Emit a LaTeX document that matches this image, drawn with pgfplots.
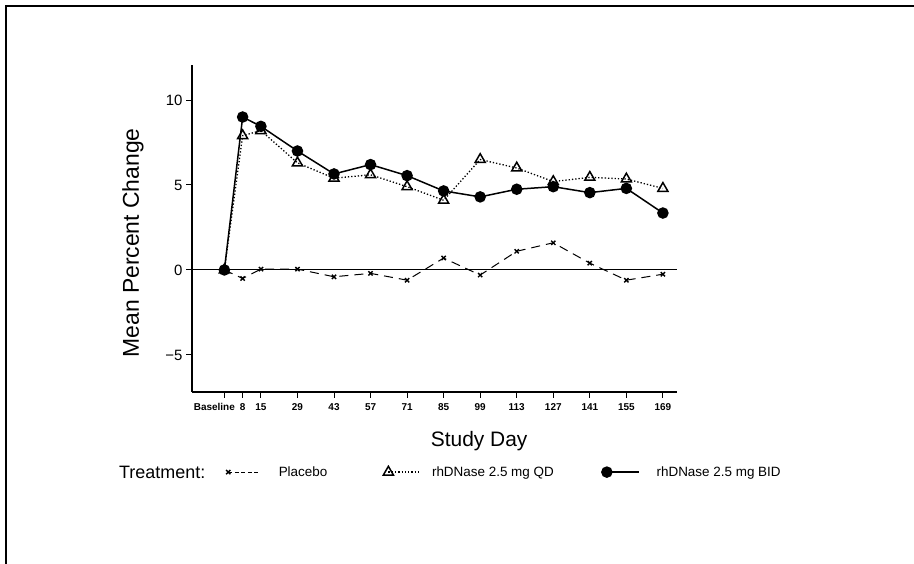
\documentclass[border=0pt]{standalone}
\usepackage{pgfplots}
\usepackage{pgfplotstable}
\usepackage{fontspec}
\setmainfont{Liberation Sans}
\pgfplotsset{compat=1.18}

% mean percent change by study day
\pgfplotstableread{
day placebo qd   bid
1   0.00    0.00 0.00
8   -0.50   7.90 9.00
15  0.05    8.20 8.45
29  0.05    6.30 7.00
43  -0.40   5.40 5.65
57  -0.20   5.60 6.20
71  -0.60   4.90 5.55
85  0.70    4.10 4.65
99  -0.30   6.50 4.30
113 1.10    6.00 4.75
127 1.60    5.20 4.90
141 0.40    5.45 4.55
155 -0.60   5.35 4.80
169 -0.25   4.80 3.35
}\datatable

\begin{document}
\begin{tikzpicture}
\path[use as bounding box] (0,0) rectangle (914bp,564bp);
% page frame (top and left edges visible)
\draw[line width=2bp] (6bp,0) -- (6bp,558bp) -- (914bp,558bp);

\node[anchor=west, font=\fontsize{18}{20}\selectfont, inner sep=0] at (119bp,92bp) {Treatment:};

\begin{axis}[
  at={(192bp,172bp)}, anchor=south west,
  scale only axis,
  width=485bp, height=327bp,
  xmin=-11.4, xmax=174.4,
  ymin=-7.18, ymax=12.06,
  axis x line*=bottom, axis y line*=left,
  every non boxed x axis/.append style={x axis line style=-},
  every non boxed y axis/.append style={y axis line style=-},
  axis line style={line width=1.2bp},
  tick align=outside,
  tick style={line width=1bp, black},
  major tick length=6bp,
  xtick={8,15,29,43,57,71,85,99,113,127,141,155,169},
  xticklabels={8,15,29,43,57,71,85,99,113,127,141,155,169},
  extra x ticks={1},
  extra x tick labels={Baseline},
  extra x tick style={xticklabel style={xshift=-10bp}},
  xticklabel style={font=\fontsize{10}{12}\selectfont\bfseries, yshift=-2bp},
  ytick={-5,0,5,10},
  yticklabels={−5,0,5,10},
  yticklabel style={font=\fontsize{15}{17}\selectfont},
  xlabel={Study Day},
  xlabel style={font=\fontsize{21}{24}\selectfont, at={(axis description cs:0.592,-0.150)}, anchor=center},
  ylabel={Mean Percent Change},
  ylabel style={font=\fontsize{23}{26}\selectfont, at={(axis description cs:-0.1216,0.456)}, anchor=center, rotate=0},
  legend columns=-1,
  legend image code/.code={
    \draw[mark repeat=2, mark phase=1, #1] plot coordinates {(0bp,0bp) (32bp,0bp)};
  },
  legend style={
    draw=none, fill=none, inner sep=0pt,
    at={(axis description cs:0.070,-0.245)}, anchor=west,
    font=\fontsize{13.5}{15}\selectfont,
    /tikz/column 1/.style={column sep=16bp},
    /tikz/column 2/.style={column sep=54bp},
    /tikz/column 3/.style={column sep=9bp},
    /tikz/column 4/.style={column sep=46bp},
    /tikz/column 5/.style={column sep=15bp},
  },
]
\draw[line width=1bp] ({rel axis cs:0,0}|-{axis cs:0,0}) -- ({rel axis cs:1,0}|-{axis cs:0,0});

\addplot[black, line width=1bp, dash pattern=on 9bp off 6bp,
  mark=x, mark size=3bp, mark options={solid, line width=1.4bp}, forget plot]
  table[x=day, y=placebo] {\datatable};

\addplot[black, line width=1.3bp, dotted,
  mark=triangle, mark size=5.8bp, mark options={solid, line width=1.5bp, fill=white}, forget plot]
  table[x=day, y=qd] {\datatable};

\addplot[black, line width=1.5bp,
  mark=*, mark size=5bp, mark options={solid, fill=black}, forget plot]
  table[x=day, y=bid] {\datatable};

\addlegendimage{black, line width=1bp, dash pattern=on 4bp off 2.5bp,
  mark=x, mark size=3bp, mark options={solid, line width=1.4bp}}
\addlegendentry{Placebo}
\addlegendimage{black, line width=1.3bp, dotted,
  mark=triangle, mark size=5.8bp, mark options={solid, line width=1.5bp, fill=white}}
\addlegendentry{rhDNase 2.5 mg QD}
\addlegendimage{black, line width=1.5bp,
  mark=*, mark size=5bp, mark options={solid, fill=black}}
\addlegendentry{rhDNase 2.5 mg BID}
\end{axis}
\end{tikzpicture}
\end{document}
